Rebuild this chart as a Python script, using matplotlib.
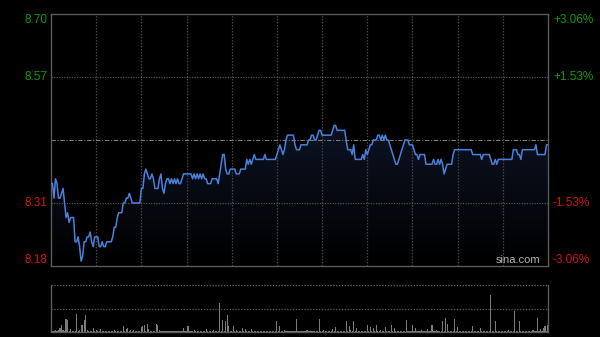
import numpy as np
import matplotlib
matplotlib.use('Agg')
import matplotlib.pyplot as plt
from matplotlib.colors import LinearSegmentedColormap
from matplotlib.patches import Polygon

# ---------------- data ----------------
prev_close = 8.44
price_ticks = [8.70, 8.57, 8.31, 8.18]
price_labels = ['8.70', '8.57', '8.31', '8.18']
pct_labels = ['+3.06%', '+1.53%', '-1.53%', '-3.06%']

price = [
    8.35, 8.35, 8.32, 8.36, 8.35, 8.32, 8.32, 8.33, 8.34, 8.31,
    8.28, 8.29, 8.27, 8.28, 8.28, 8.28, 8.23, 8.23, 8.24, 8.22,
    8.19, 8.20, 8.23, 8.23, 8.24, 8.24, 8.25, 8.23, 8.22, 8.24,
    8.24, 8.24, 8.22, 8.22, 8.23, 8.22, 8.22, 8.23, 8.23, 8.23,
    8.23, 8.24, 8.26, 8.26, 8.28, 8.29, 8.29, 8.29, 8.31, 8.31,
    8.32, 8.32, 8.33, 8.32, 8.31, 8.31, 8.31, 8.31, 8.31, 8.31,
    8.34, 8.34, 8.37, 8.38, 8.37, 8.36, 8.36, 8.37, 8.36, 8.34,
    8.34, 8.34, 8.36, 8.37, 8.34, 8.33, 8.35, 8.36, 8.36, 8.35,
    8.36, 8.35, 8.36, 8.35, 8.36, 8.35, 8.35, 8.36, 8.37, 8.37,
    8.37, 8.37, 8.37, 8.37, 8.36, 8.37, 8.36, 8.37, 8.36, 8.37,
    8.36, 8.37, 8.36, 8.36, 8.35, 8.35, 8.35, 8.36, 8.36, 8.36,
    8.36, 8.35, 8.37, 8.39, 8.41, 8.41, 8.38, 8.37, 8.37, 8.38,
    8.38, 8.38, 8.38, 8.37, 8.37, 8.37, 8.38, 8.38, 8.38, 8.38,
    8.40, 8.39, 8.40, 8.39, 8.40, 8.41, 8.40, 8.40, 8.40, 8.40,
    8.40, 8.40, 8.41, 8.40, 8.40, 8.40, 8.40, 8.40, 8.40, 8.40,
    8.41, 8.42, 8.43, 8.42, 8.41, 8.42, 8.44, 8.45, 8.45, 8.45,
    8.45, 8.45, 8.43, 8.42, 8.42, 8.42, 8.43, 8.43, 8.43, 8.43,
    8.43, 8.44, 8.44, 8.45, 8.45, 8.44, 8.44, 8.45, 8.46, 8.46,
    8.45, 8.45, 8.45, 8.45, 8.45, 8.45, 8.45, 8.46, 8.47, 8.47,
    8.46, 8.46, 8.46, 8.46, 8.46, 8.46, 8.44, 8.42, 8.42, 8.42,
    8.41, 8.43, 8.40, 8.40, 8.40, 8.40, 8.40, 8.41, 8.40, 8.42,
    8.41, 8.42, 8.43, 8.43, 8.44, 8.44, 8.44, 8.45, 8.45, 8.44,
    8.45, 8.44, 8.45, 8.44, 8.44, 8.43, 8.42, 8.41, 8.40, 8.39,
    8.39, 8.40, 8.41, 8.42, 8.43, 8.44, 8.44, 8.44, 8.43, 8.43,
    8.43, 8.42, 8.41, 8.41, 8.40, 8.41, 8.41, 8.41, 8.41, 8.39,
    8.39, 8.39, 8.39, 8.39, 8.40, 8.39, 8.39, 8.40, 8.39, 8.40,
    8.39, 8.37, 8.38, 8.39, 8.39, 8.39, 8.39, 8.41, 8.42, 8.42,
    8.42, 8.42, 8.42, 8.42, 8.42, 8.42, 8.42, 8.42, 8.42, 8.42,
    8.41, 8.41, 8.41, 8.41, 8.41, 8.41, 8.40, 8.41, 8.41, 8.41,
    8.41, 8.41, 8.40, 8.39, 8.39, 8.40, 8.39, 8.40, 8.40, 8.40,
    8.40, 8.40, 8.40, 8.40, 8.40, 8.40, 8.40, 8.42, 8.42, 8.42,
    8.41, 8.41, 8.40, 8.42, 8.42, 8.42, 8.42, 8.42, 8.42, 8.42,
    8.42, 8.42, 8.43, 8.41, 8.41, 8.41, 8.41, 8.41, 8.41, 8.43,
    8.43,
]

volume = [
    17, 3, 2, 5, 3, 7, 12, 22, 7, 3, 39, 35, 3, 9, 3, 4, 3, 54, 3, 5,
    22, 22, 37, 52, 5, 3, 4, 3, 12, 3, 7, 3, 2, 9, 3, 4, 2, 3, 2, 3,
    2, 3, 5, 2, 3, 4, 3, 2, 17, 3, 9, 12, 3, 5, 2, 5, 3, 2, 3, 2,
    15, 19, 22, 3, 25, 9, 3, 2, 3, 2, 25, 22, 5, 3, 2, 3, 2, 3, 2, 2,
    3, 2, 3, 2, 2, 3, 2, 3, 12, 3, 2, 19, 3, 2, 3, 5, 2, 3, 2, 3,
    2, 3, 3, 9, 2, 3, 2, 3, 5, 3, 2, 3, 87, 3, 37, 3, 34, 52, 17, 3,
    2, 17, 3, 5, 2, 3, 2, 12, 3, 10, 3, 2, 3, 9, 2, 3, 2, 3, 2, 3,
    2, 3, 2, 3, 2, 3, 2, 3, 2, 3, 34, 3, 17, 3, 2, 7, 3, 2, 3, 2,
    3, 2, 3, 39, 2, 3, 4, 2, 3, 2, 7, 3, 2, 3, 2, 3, 2, 3, 39, 3,
    2, 5, 3, 2, 3, 2, 3, 9, 3, 15, 3, 2, 3, 2, 3, 2, 34, 3, 17, 7,
    3, 34, 3, 11, 3, 2, 3, 2, 3, 2, 20, 3, 14, 3, 12, 3, 22, 3, 2, 5,
    3, 2, 15, 3, 2, 3, 21, 3, 12, 3, 2, 3, 2, 3, 2, 3, 37, 3, 2, 3,
    20, 3, 12, 3, 2, 3, 5, 3, 2, 3, 9, 3, 2, 22, 3, 2, 5, 3, 2, 3,
    34, 3, 42, 25, 3, 2, 3, 2, 39, 3, 15, 3, 2, 3, 2, 3, 2, 3, 2, 3,
    19, 3, 2, 3, 2, 12, 3, 2, 3, 2, 3, 2, 112, 3, 2, 34, 3, 2, 3, 2,
    3, 2, 3, 2, 7, 3, 2, 3, 62, 3, 2, 32, 3, 2, 3, 2, 3, 2, 3, 2,
    5, 3, 2, 42, 3, 9, 3, 12, 17, 3, 20,
]

# ---------------- style ----------------
BG = '#000000'
GREEN = '#0b9c0b'
RED = '#d01414'
LINE = '#4a80dc'
FRAME = '#5a5a5a'
plt.rcParams['font.family'] = ['Liberation Sans', 'DejaVu Sans']

minutes = np.arange(len(price))
n_min = 330
ymin, ymax = 8.18, 8.70

fig = plt.figure(figsize=(6.0, 3.37), dpi=100, facecolor=BG)
W, H = 600.0, 337.0
ax = fig.add_axes([51 / W, 1 - 266 / H, 497 / W, 252 / H])
axv = fig.add_axes([51 / W, 1 - 332 / H, 497 / W, 47 / H])

for a in (ax, axv):
    a.set_facecolor(BG)
    a.set_xticks([])
    a.set_yticks([])
    for s in a.spines.values():
        s.set_color(FRAME)
        s.set_linewidth(1.0)

ax.set_xlim(0, n_min)
ax.set_ylim(ymin, ymax)

# gradient fill under the line
cmap = LinearSegmentedColormap.from_list('fill', ['#000000', '#0b1120', '#131c30'])
grad = np.linspace(0, 1, 256).reshape(-1, 1)
im = ax.imshow(grad, cmap=cmap, aspect='auto', origin='lower',
               extent=[0, n_min, ymin, ymax], zorder=1)
verts = [(0, ymin)] + list(zip(minutes, price)) + [(minutes[-1], ymin)]
poly = Polygon(verts, closed=True, facecolor='none', edgecolor='none')
ax.add_patch(poly)
im.set_clip_path(poly)

# grid
for v in range(30, n_min, 30):
    ax.axvline(v, color='#444444', lw=0.9, ls=(0, (1.2, 1.2)), zorder=2)
for hv in (8.57, 8.31):
    ax.axhline(hv, color='#5e5e5e', lw=0.8, ls=(0, (1, 1.3)), zorder=2)
ax.axhline(prev_close, color='#7a7a7a', lw=0.8, ls=(0, (4, 1.5, 1, 1.5)), zorder=2)

# price line
ax.plot(minutes, price, color=LINE, lw=1.1, zorder=3, solid_joinstyle='round')

# labels
colors = [GREEN, GREEN, RED, RED]
vas = ['top', 'center', 'center', 'bottom']
for p, lab, pl, c, va in zip(price_ticks, price_labels, pct_labels, colors, vas):
    ax.text(-0.008, p, lab, transform=ax.get_yaxis_transform(), ha='right', va=va,
            color=c, fontsize=8.5)
    ax.text(1.01, p, pl, transform=ax.get_yaxis_transform(), ha='left', va=va,
            color=c, fontsize=8.5)

ax.text(0.94, 0.004, 'sina.com', transform=ax.transAxes, ha='center', va='bottom',
        color='#b4b4b4', fontsize=8)

# volume panel
vtop = 142
axv.set_xlim(0, n_min)
axv.set_ylim(0, vtop)
axv.spines['top'].set_visible(False)
axv.axhline(vtop, color='#6a6a6a', lw=0.9, ls=(0, (1, 1.3)))
axv.axhline(vtop / 2, color='#5a5a5a', lw=0.9, ls=(0, (1, 1.3)))
axv.bar(minutes, volume, width=0.75, color='#7c7c7c', linewidth=0)

fig.savefig('out.png', dpi=100, facecolor=BG)
